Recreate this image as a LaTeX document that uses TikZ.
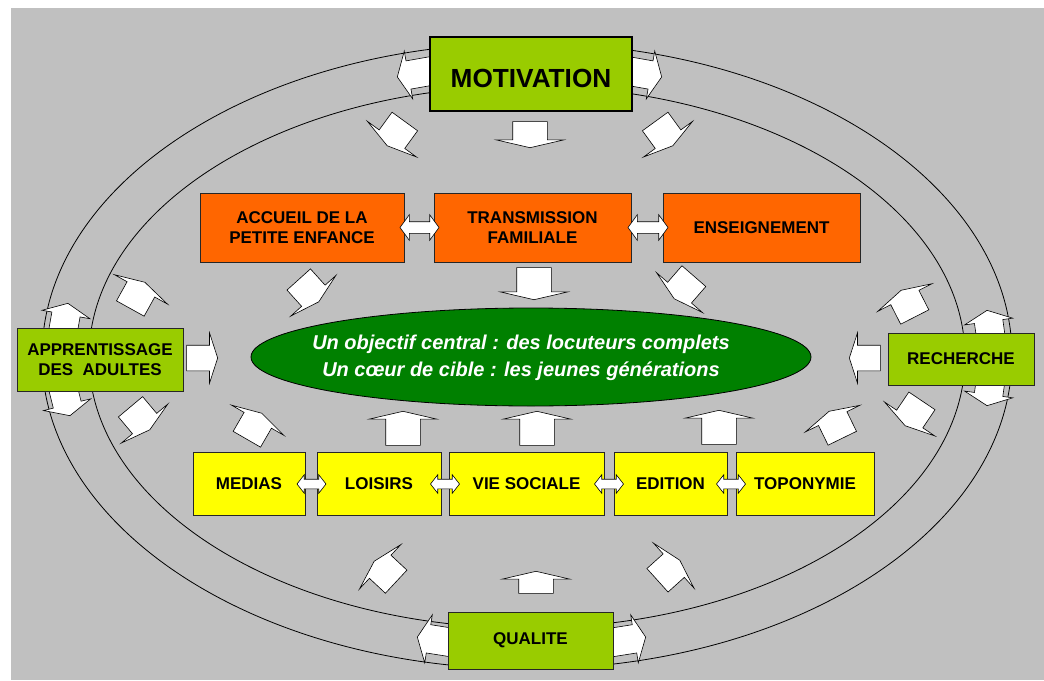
\documentclass[tikz,border=0pt]{standalone}
\usepackage{fontspec}
\setmainfont{Liberation Sans}
\usetikzlibrary{shapes.arrows,shapes.geometric}

\definecolor{panelgray}{HTML}{C0C0C0}
\definecolor{motivgreen}{HTML}{99CC00}
\definecolor{coreorange}{HTML}{FF6600}
\definecolor{sideyellow}{HTML}{FFFF00}
\definecolor{goalgreen}{HTML}{008000}

\begin{document}
\begin{tikzpicture}[x=1pt, y=-1pt,
    box/.style={draw=black!85, line width=0.8pt, inner sep=0pt, align=center,
        font=\fontsize{17}{20}\selectfont\bfseries},
    greenbox/.style={box, fill=motivgreen},
    orangebox/.style={box, fill=coreorange, minimum height=69},
    yellowbox/.style={box, fill=sideyellow, minimum height=63},
    blockarrow/.style={single arrow, draw=black, fill=white, line width=0.6pt,
        inner xsep=0pt, anchor=tip},
    mainarrow/.style={blockarrow, inner ysep=17, single arrow head extend=16.5,
        single arrow tip angle=154},
    sidearrow/.style={blockarrow, inner ysep=12.5, minimum height=31,
        single arrow head extend=12.5, single arrow tip angle=144},
    diagarrow/.style={blockarrow, inner ysep=15.5, minimum height=30,
        single arrow head extend=14.5, single arrow tip angle=150},
    ringarrow/.style={blockarrow, inner ysep=14, minimum height=50,
        single arrow head extend=10, single arrow tip angle=130},
    bigtwin/.style={double arrow, draw=black, fill=white, line width=0.6pt,
        inner xsep=0pt, inner ysep=5.5, minimum height=39,
        double arrow head extend=7, double arrow tip angle=108},
    smalltwin/.style={bigtwin, inner ysep=4.5, minimum height=29,
        double arrow head extend=4.5, double arrow tip angle=104}]

    % Page and gray panel
    \useasboundingbox (0,0) rectangle (1044,680);
    \fill[white] (0,0) rectangle (1044,680);
    \fill[panelgray] (11,8) rectangle (1044,680);

    % The two rings
    \draw[line width=0.8pt] (527,356) ellipse [x radius=485, y radius=313];
    \draw[line width=0.8pt] (527,357) ellipse [x radius=438, y radius=271];

    % Arrows running along the ring
    \node[ringarrow, rotate=190] (motleft) at (397,77) {};
    \node[ringarrow, rotate=-10] (motright) at (662,77) {};
    \node[ringarrow, rotate=171] (qualeft) at (417,637) {};
    \node[ringarrow, rotate=9] (quaright) at (646,637) {};
    \node[ringarrow, rotate=80] (appup) at (68,303) {};
    \node[ringarrow, rotate=-76] (appdown) at (70,416) {};
    \node[ringarrow, rotate=98] (recup) at (987,310) {};
    \node[ringarrow, rotate=-98] (recdown) at (987,406) {};

    % Boxes on the ring
    \node[greenbox, line width=2.2pt, draw=black, minimum width=202, minimum height=74,
        text height=26, text depth=0, font=\fontsize{26.2}{30}\selectfont\bfseries]
        (motiv) at (531,74) {MOTIVATION};
    \node[greenbox, minimum width=166, minimum height=63] (adults) at (100,359.5)
        {APPRENTISSAGE\\DES\ \ ADULTES};
    \node[greenbox, minimum width=146, minimum height=52] (research) at (961,359) {RECHERCHE};
    \node[greenbox, minimum width=165, minimum height=57] (quality) at (530.5,640.5) {QUALITE};

    % Top row
    \node[orangebox, minimum width=204] (infancy) at (302,227.5) {ACCUEIL DE LA\\PETITE ENFANCE};
    \node[orangebox, minimum width=197] (family) at (532.5,227.5) {TRANSMISSION\\FAMILIALE};
    \node[orangebox, minimum width=197] (school) at (761.5,227.5) {ENSEIGNEMENT};

    % Bottom row
    \node[yellowbox, minimum width=112] (medias) at (249,483.5) {MEDIAS};
    \node[yellowbox, minimum width=124] (leisure) at (379,483.5) {LOISIRS};
    \node[yellowbox, minimum width=155] (social) at (526.5,483.5) {VIE SOCIALE};
    \node[yellowbox, minimum width=113] (publish) at (670.5,483.5) {EDITION};
    \node[yellowbox, minimum width=138] (places) at (805,483.5) {TOPONYMIE};

    % Links inside the rows
    \node[bigtwin] (infam) at (419.5,227.5) {};
    \node[bigtwin, minimum height=40] (famsch) at (648,227.5) {};
    \node[smalltwin] (medlei) at (311.5,484) {};
    \node[smalltwin] (leisoc) at (445,484) {};
    \node[smalltwin] (socpub) at (609,484) {};
    \node[smalltwin] (pubpla) at (731,484) {};

    % Centre
    \node[ellipse, draw=black, line width=0.8pt, fill=goalgreen, inner sep=0pt,
        minimum width=560, minimum height=98] (goal) at (531,357) {};
    \node[white, align=center, font=\fontsize{20}{27}\selectfont\bfseries\itshape]
        (goaltext) at (521,358)
        {Un objectif central : des locuteurs complets\\Un c\oe ur de cible : les jeunes générations};

    % Straight arrows
    \node[mainarrow, rotate=-90, minimum height=26] (motdown) at (530,148) {};
    \node[mainarrow, rotate=-90, minimum height=32] (famdown) at (534,300) {};
    \node[mainarrow, rotate=90, minimum height=34] (leiup) at (403,411) {};
    \node[mainarrow, rotate=90, minimum height=34] (socup) at (537,411) {};
    \node[mainarrow, rotate=90, minimum height=34] (pubup) at (719,410) {};
    \node[mainarrow, rotate=90, minimum height=22] (quaup) at (536,571) {};
    \node[sidearrow] (adultin) at (218,358) {};
    \node[sidearrow, rotate=180] (researchin) at (849,358) {};

    % Slanted arrows
    \node[diagarrow, rotate=-126] (motinf) at (387,146) {};
    \node[diagarrow, rotate=-54] (motsch) at (673,146) {};
    \node[diagarrow, rotate=-48] (infgoal) at (319,302) {};
    \node[diagarrow, rotate=-131] (schgoal) at (674,299) {};
    \node[diagarrow, rotate=61] (adinf) at (145,282) {};
    \node[diagarrow, rotate=-50] (admed) at (150,430) {};
    \node[diagarrow, rotate=117] (ressch) at (901,290) {};
    \node[diagarrow, rotate=-124] (respla) at (905,426) {};
    \node[diagarrow, rotate=60] (medgoal) at (262,413) {};
    \node[diagarrow, rotate=116] (plagoal) at (829,411) {};
    \node[diagarrow, rotate=137] (quamed) at (374,561) {};
    \node[diagarrow, rotate=42] (quapla) at (680,560) {};

\end{tikzpicture}
\end{document}
